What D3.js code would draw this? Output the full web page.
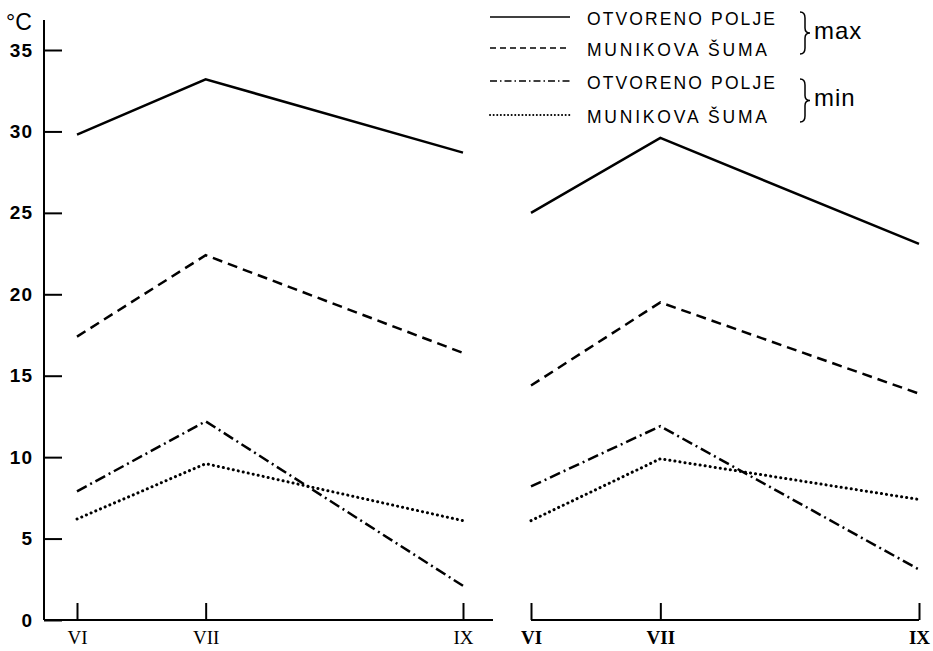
<!DOCTYPE html>
<html>
<head>
<meta charset="utf-8">
<script src="https://cdn.jsdelivr.net/npm/d3@7"></script>
<style>
  body { margin: 0; background: #fff; }
  .yax text { font-family: "Liberation Sans", Arial, sans-serif; font-size: 19px; font-weight: bold; letter-spacing: 1px; }
  .xax text { font-family: "Liberation Serif", serif; font-size: 19px; }
  .leg { font-family: "Liberation Sans", Arial, sans-serif; font-size: 17.5px; }
</style>
</head>
<body>
<div id="chart"></div>
<script>
// months on x (VI, VII, IX)
var months = [6, 7, 9];
var monthLabels = ["VI", "VII", "IX"];
var yTicks = [0, 5, 10, 15, 20, 25, 30, 35];

// left panel
var leftMaxOpen   = [29.8, 33.2, 28.7];
var leftMaxForest = [17.4, 22.4, 16.4];
var leftMinOpen   = [7.9, 12.2, 2.1];
var leftMinForest = [6.2, 9.6, 6.1];

// right panel
var rightMaxOpen   = [25.0, 29.6, 23.1];
var rightMaxForest = [14.4, 19.5, 13.9];
var rightMinOpen   = [8.2, 11.9, 3.1];
var rightMinForest = [6.1, 9.9, 7.4];

var legendNames = ["OTVORENO POLJE", "MUNIKOVA ŠUMA", "OTVORENO POLJE", "MUNIKOVA ŠUMA"];

var styles = [
  {dash: null, cap: "butt"},
  {dash: "10,6", cap: "butt"},
  {dash: "11,4,2,4", cap: "butt"},
  {dash: "0.1,5", cap: "round"}
];

var width = 933, height = 651;
var svg = d3.select("#chart").append("svg")
    .attr("width", width)
    .attr("height", height);

var y = d3.scaleLinear().domain([0, 35]).range([620, 50]);

var xLeft = d3.scaleLinear().domain([6, 9]).range([77, 463]);
var xRight = d3.scaleLinear().domain([6, 9]).range([531, 919]);

// y axis
var yAxis = svg.append("g")
    .attr("class", "yax")
    .attr("transform", "translate(44,0)")
    .call(d3.axisLeft(y).tickValues(yTicks).tickSize(-18).tickPadding(12));
yAxis.select(".domain").remove();
yAxis.selectAll(".tick line").attr("stroke", "#000").attr("stroke-width", 2);
yAxis.selectAll(".tick text").attr("fill", "#000").attr("dx", "1px");

svg.append("line")
    .attr("x1", 44).attr("x2", 44)
    .attr("y1", 20).attr("y2", y(0))
    .attr("stroke", "#000").attr("stroke-width", 2);

svg.append("text")
    .attr("x", 6).attr("y", 30)
    .style("font-family", "Liberation Sans, Arial, sans-serif")
    .style("font-size", "23px")
    .text("°C");

function drawPanel(x, x0, x1, series, bold) {
  var g = svg.append("g");

  var ax = g.append("g")
      .attr("class", "xax")
      .attr("transform", "translate(0," + y(0) + ")")
      .call(d3.axisBottom(x).tickValues(months)
            .tickFormat(function(d, i) { return monthLabels[i]; })
            .tickSize(-17).tickPadding(11));
  ax.select(".domain").remove();
  ax.selectAll(".tick line").attr("stroke", "#000").attr("stroke-width", 2);
  ax.selectAll(".tick text").attr("fill", "#000")
      .style("font-weight", bold ? "bold" : "normal");

  g.append("line")
      .attr("x1", x0).attr("x2", x1)
      .attr("y1", y(0)).attr("y2", y(0))
      .attr("stroke", "#000").attr("stroke-width", 2);

  var line = d3.line()
      .x(function(d, i) { return x(months[i]); })
      .y(function(d) { return y(d); });

  series.forEach(function(s, k) {
    g.append("path")
        .datum(s)
        .attr("fill", "none")
        .attr("stroke", "#000")
        .attr("stroke-width", k == 3 ? 3 : 2.5)
        .attr("stroke-linecap", styles[k].cap)
        .attr("stroke-dasharray", styles[k].dash)
        .attr("d", line);
  });
}

drawPanel(xLeft, 44, 493, [leftMaxOpen, leftMaxForest, leftMinOpen, leftMinForest], false);
drawPanel(xRight, 531, 919, [rightMaxOpen, rightMaxForest, rightMinOpen, rightMinForest], true);

// legend
var legRows = [17, 48, 81, 115];
var leg = svg.append("g").attr("class", "leg");
legRows.forEach(function(ry, k) {
  leg.append("line")
      .attr("x1", 490).attr("x2", 570)
      .attr("y1", ry).attr("y2", ry)
      .attr("stroke", "#000")
      .attr("stroke-width", k == 3 ? 2 : 1.5)
      .attr("stroke-linecap", styles[k].cap)
      .attr("stroke-dasharray", k == 1 ? "6,4" : k == 2 ? "7,3,1.5,3" : k == 3 ? "0.1,3.5" : null);
  leg.append("text")
      .attr("x", 587).attr("y", ry + 8)
      .attr("textLength", k % 2 == 0 ? 188 : 180)
      .attr("lengthAdjust", "spacing")
      .text(legendNames[k]);
});

// braces
function brace(xb, y0, y1) {
  var m = (y0 + y1) / 2;
  var p = "M" + xb + "," + y0 +
          " Q" + (xb + 5) + "," + y0 + " " + (xb + 5) + "," + (y0 + 6) +
          " L" + (xb + 5) + "," + (m - 5) +
          " Q" + (xb + 5) + "," + m + " " + (xb + 10) + "," + m +
          " Q" + (xb + 5) + "," + m + " " + (xb + 5) + "," + (m + 5) +
          " L" + (xb + 5) + "," + (y1 - 6) +
          " Q" + (xb + 5) + "," + y1 + " " + xb + "," + y1;
  svg.append("path").attr("d", p)
      .attr("fill", "none").attr("stroke", "#000").attr("stroke-width", 1.5);
}
brace(800, 12, 54);
brace(800, 79, 122);

svg.append("text").attr("x", 814).attr("y", 39)
    .style("font-family", "Liberation Sans, Arial, sans-serif")
    .style("font-size", "24px").style("letter-spacing", "1px")
    .text("max");
svg.append("text").attr("x", 814).attr("y", 106)
    .style("font-family", "Liberation Sans, Arial, sans-serif")
    .style("font-size", "24px").style("letter-spacing", "1px")
    .text("min");
</script>
</body>
</html>
